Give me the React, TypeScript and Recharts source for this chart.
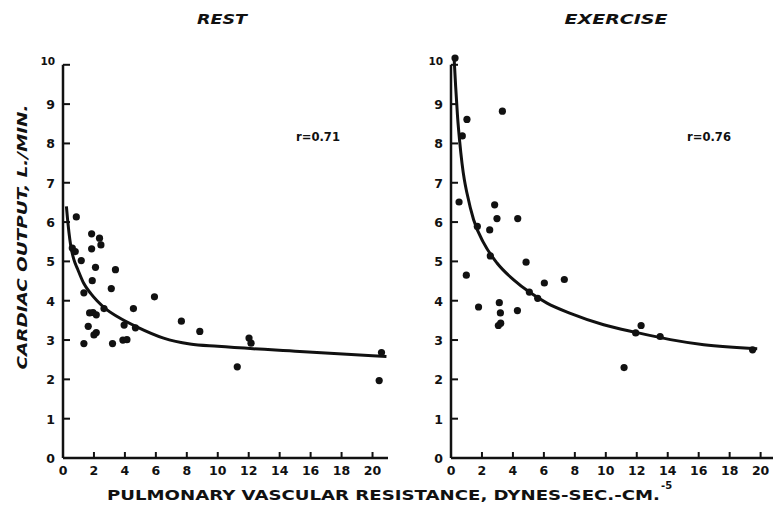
import React from "react";
import { ScatterChart, Scatter, XAxis, YAxis, ReferenceLine } from "recharts";

const xTicks = [0, 2, 4, 6, 8, 10, 12, 14, 16, 18, 20];
const yTicks = [0, 1, 2, 3, 4, 5, 6, 7, 8, 9, 10];

// REST panel: measured points
const restPoints = [
  { x: 0.86, y: 6.13 }, { x: 1.85, y: 5.7 }, { x: 2.36, y: 5.59 }, { x: 2.45, y: 5.42 },
  { x: 1.85, y: 5.32 }, { x: 0.6, y: 5.34 }, { x: 0.79, y: 5.25 }, { x: 1.18, y: 5.02 },
  { x: 2.1, y: 4.85 }, { x: 3.39, y: 4.79 }, { x: 1.89, y: 4.51 }, { x: 3.12, y: 4.31 },
  { x: 1.35, y: 4.2 }, { x: 5.91, y: 4.1 }, { x: 2.65, y: 3.8 }, { x: 4.55, y: 3.8 },
  { x: 1.72, y: 3.69 }, { x: 1.94, y: 3.7 }, { x: 2.15, y: 3.64 }, { x: 3.95, y: 3.38 },
  { x: 1.63, y: 3.35 }, { x: 4.68, y: 3.31 }, { x: 7.65, y: 3.48 }, { x: 2.15, y: 3.19 },
  { x: 2.0, y: 3.13 }, { x: 8.84, y: 3.22 }, { x: 3.87, y: 3.0 }, { x: 4.13, y: 3.01 },
  { x: 1.35, y: 2.91 }, { x: 3.2, y: 2.91 }, { x: 12.02, y: 3.05 }, { x: 12.15, y: 2.92 },
  { x: 11.26, y: 2.32 }, { x: 20.58, y: 2.68 }, { x: 20.43, y: 1.97 },
];

// REST panel: fitted curve
const restCurve = [
  { x: 0.22, y: 6.4 }, { x: 0.3, y: 6.05 }, { x: 0.38, y: 5.75 }, { x: 0.5, y: 5.4 },
  { x: 0.7, y: 5.05 }, { x: 0.95, y: 4.8 }, { x: 1.33, y: 4.45 }, { x: 1.8, y: 4.18 },
  { x: 2.2, y: 4.0 }, { x: 2.8, y: 3.78 }, { x: 3.5, y: 3.6 }, { x: 4.8, y: 3.33 },
  { x: 6.5, y: 3.05 }, { x: 8.2, y: 2.9 }, { x: 10, y: 2.84 }, { x: 15.3, y: 2.71 },
  { x: 20.9, y: 2.58 },
];

// EXERCISE panel: measured points
const exercisePoints = [
  { x: 0.26, y: 10.17 }, { x: 1.03, y: 8.61 }, { x: 0.73, y: 8.19 }, { x: 3.32, y: 8.82 },
  { x: 0.52, y: 6.51 }, { x: 2.82, y: 6.44 }, { x: 2.97, y: 6.09 }, { x: 4.31, y: 6.09 },
  { x: 1.7, y: 5.89 }, { x: 2.5, y: 5.8 }, { x: 2.54, y: 5.14 }, { x: 4.85, y: 4.98 },
  { x: 0.99, y: 4.65 }, { x: 7.32, y: 4.54 }, { x: 6.03, y: 4.45 }, { x: 5.06, y: 4.22 },
  { x: 5.6, y: 4.06 }, { x: 1.78, y: 3.84 }, { x: 3.12, y: 3.95 }, { x: 3.19, y: 3.69 },
  { x: 4.29, y: 3.75 }, { x: 3.21, y: 3.43 }, { x: 3.06, y: 3.37 }, { x: 12.28, y: 3.37 },
  { x: 11.93, y: 3.18 }, { x: 13.51, y: 3.09 }, { x: 11.18, y: 2.3 }, { x: 19.48, y: 2.75 },
];

// EXERCISE panel: fitted curve
const exerciseCurve = [
  { x: 0.21, y: 10.1 }, { x: 0.3, y: 9.45 }, { x: 0.42, y: 8.7 }, { x: 0.56, y: 8.05 },
  { x: 0.71, y: 7.5 }, { x: 0.86, y: 7.08 }, { x: 1.03, y: 6.74 }, { x: 1.46, y: 6.06 },
  { x: 2.11, y: 5.47 }, { x: 2.97, y: 4.96 }, { x: 4.05, y: 4.53 }, { x: 5.13, y: 4.2 },
  { x: 6.2, y: 3.94 }, { x: 7.71, y: 3.68 }, { x: 9.86, y: 3.39 }, { x: 12.0, y: 3.19 },
  { x: 14.17, y: 3.01 }, { x: 16.33, y: 2.88 }, { x: 19.78, y: 2.78 },
];

const FONT = "'DejaVu Sans', sans-serif";
const INK = "#111";

const XTick = (props: any) => {
  const { x, y, payload } = props;
  return (
    <g>
      <line x1={x} x2={x} y1={y} y2={y - 6} stroke={INK} strokeWidth={2} />
      <text x={x} y={y + 17} textAnchor="middle" fontSize={12.5} fontWeight="bold" fontFamily={FONT} fill={INK}>
        {payload.value}
      </text>
    </g>
  );
};

const YTick = (props: any) => {
  const { x, y, payload } = props;
  const v = payload.value;
  return (
    <g>
      {v !== 0 && <line x1={x} x2={x + 7} y1={y} y2={y} stroke={INK} strokeWidth={2} />}
      <text
        x={x - 8}
        y={v === 10 ? y : y + 5}
        textAnchor="end"
        fontSize={v === 10 ? 10.5 : 12.5}
        fontWeight="bold"
        fontFamily={FONT}
        fill={INK}
      >
        {v}
      </text>
    </g>
  );
};

const Dot = (p: any) => <circle cx={p.cx} cy={p.cy} r={3.6} fill={INK} />;
const NoDot = () => <g />;

interface PanelProps {
  points: { x: number; y: number }[];
  curve: { x: number; y: number }[];
  width: number;
  yAxisWidth: number;
  xMax: number;
  marginRight: number;
}

const Panel = ({ points, curve, width, yAxisWidth, xMax, marginRight }: PanelProps) => (
  <ScatterChart width={width} height={508} margin={{ top: 53, right: marginRight, bottom: 20, left: 0 }}>
    <XAxis
      type="number"
      dataKey="x"
      domain={[0, xMax]}
      ticks={xTicks}
      interval={0}
      allowDataOverflow
      tickSize={0}
      tickMargin={0}
      tickLine={false}
      tick={XTick}
      axisLine={{ stroke: INK, strokeWidth: 2.5 }}
      height={30}
    />
    <YAxis
      type="number"
      dataKey="y"
      domain={[0, 10.3]}
      ticks={yTicks}
      interval={0}
      allowDataOverflow
      tickSize={0}
      tickMargin={0}
      tickLine={false}
      tick={YTick}
      axisLine={false}
      width={yAxisWidth}
    />
    <ReferenceLine
      segment={[{ x: 0, y: 0 }, { x: 0, y: 10 }]}
      stroke={INK}
      strokeWidth={2.5}
      ifOverflow="visible"
    />
    <Scatter
      data={curve}
      line={{ stroke: INK, strokeWidth: 3 }}
      lineJointType="monotoneX"
      shape={NoDot}
      isAnimationActive={false}
    />
    <Scatter data={points} shape={Dot} isAnimationActive={false} />
  </ScatterChart>
);

export default function App() {
  return (
    <div style={{ position: "absolute", left: 0, top: 0, width: 773, height: 508, background: "#fff" }}>
      <div style={{ position: "absolute", left: 0, top: 0 }}>
        <Panel points={restPoints} curve={restCurve} width={400} yAxisWidth={63} xMax={21} marginRight={12} />
      </div>
      <div style={{ position: "absolute", left: 390, top: 0 }}>
        <Panel points={exercisePoints} curve={exerciseCurve} width={383} yAxisWidth={61} xMax={20.8} marginRight={0} />
      </div>
      <svg
        width={773}
        height={508}
        style={{ position: "absolute", left: 0, top: 0, pointerEvents: "none" }}
      >
        <g fontFamily={FONT} fontWeight="bold" fill={INK}>
          <text x={222} y={24} textAnchor="middle" fontSize={14} fontStyle="italic" textLength={50} lengthAdjust="spacingAndGlyphs">
            REST
          </text>
          <text x={616} y={24} textAnchor="middle" fontSize={14} fontStyle="italic" textLength={103} lengthAdjust="spacingAndGlyphs">
            EXERCISE
          </text>
          <text x={296} y={141} fontSize={12} textLength={44} lengthAdjust="spacingAndGlyphs">
            r=0.71
          </text>
          <text x={687} y={141} fontSize={12} textLength={44} lengthAdjust="spacingAndGlyphs">
            r=0.76
          </text>
          <text
            transform="translate(27,237) rotate(-90)"
            textAnchor="middle"
            fontSize={14}
            fontStyle="italic"
            textLength={265}
            lengthAdjust="spacingAndGlyphs"
          >
            CARDIAC OUTPUT, L./MIN.
          </text>
          <text x={107} y={500} fontSize={14} textLength={553} lengthAdjust="spacingAndGlyphs">
            PULMONARY VASCULAR RESISTANCE, DYNES-SEC.-CM.
          </text>
          <text x={661} y={489} fontSize={10}>
            -5
          </text>
        </g>
      </svg>
    </div>
  );
}
